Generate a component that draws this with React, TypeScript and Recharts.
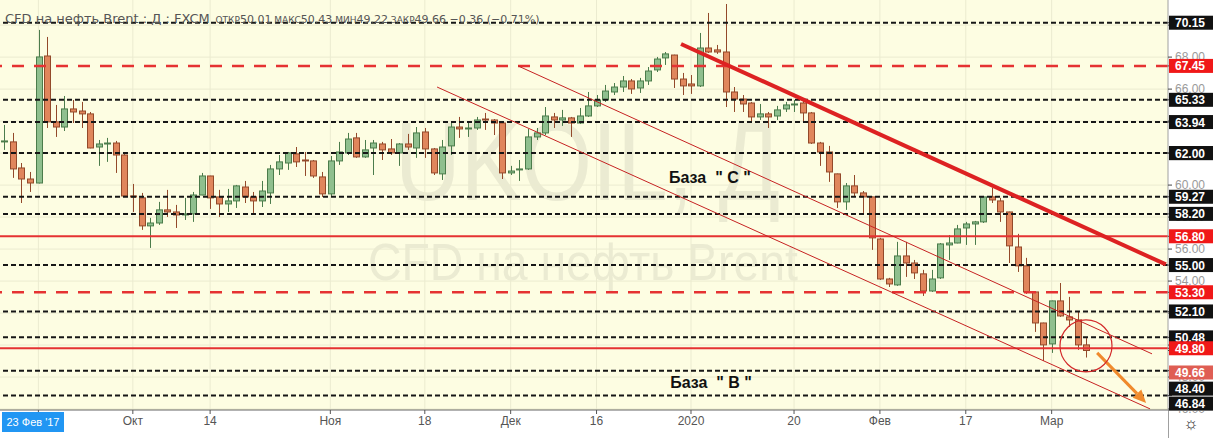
import React from 'react';
import {
  ComposedChart,
  Bar,
  XAxis,
  YAxis,
  CartesianGrid,
  ReferenceLine,
  ReferenceDot,
} from 'recharts';

// daily candles (Sep 2019 - Mar 2020)
const OPEN = [
  62.7, 62.7, 61.07, 60.38, 60.13, 68.07, 63.95, 63.63, 64.76, 64.63,
  64.45, 62.38, 62.57, 62.63, 61.88, 59.32, 59.2, 57.45, 57.63, 58.45,
  58.32, 58.13, 58.2, 59.38, 60.57, 59.26, 58.82, 59.01, 59.88, 59.26,
  59.01, 59.51, 61.01, 61.38, 61.95, 61.57, 61.51, 60.51, 59.45, 61.51,
  62.01, 62.95, 61.76, 62.32, 62.57, 62.26, 62.01, 62.57, 62.32, 63.32,
  62.26, 60.7, 62.45, 63.63, 63.51, 63.57, 64.13, 64.07, 63.88, 60.76,
  60.95, 61.01, 63.01, 63.26, 64.26, 64.07, 64.2, 63.88, 64.32, 64.95,
  65.32, 65.82, 66.13, 66.51, 66.07, 66.51, 67.2, 67.95, 68.13, 66.63,
  66.32, 66.2, 68.57, 68.45, 68.32, 65.82, 65.38, 65.13, 64.26, 64.45,
  64.32, 64.76, 65.01, 65.13, 64.51, 62.63, 62.07, 60.7, 58.95, 59.95,
  59.51, 59.26, 56.63, 54.13, 53.76, 55.57, 55.13, 54.45, 53.38, 54.2,
  56.26, 56.38, 57.32, 57.57, 57.7, 59.26, 59.01, 58.32, 56.13, 54.95,
  53.32, 51.38, 50.07, 52.76, 51.76, 51.57, 50.01,
];
const HIGH = [
  63.76, 63.26, 61.38, 60.82, 69.7, 69.26, 65.01, 65.57, 65.32, 65.2,
  64.57, 62.82, 62.95, 62.76, 61.95, 60.07, 59.51, 57.95, 58.95, 59.7,
  58.76, 59.2, 59.57, 60.76, 60.58, 59.7, 59.76, 60.01, 60.26, 59.57,
  60.26, 61.26, 61.88, 62.07, 62.38, 62.07, 61.57, 60.82, 61.82, 62.7,
  63.26, 63.26, 62.82, 62.82, 62.7, 62.88, 62.63, 63.2, 63.63, 63.57,
  62.32, 62.82, 63.95, 64.26, 63.95, 64.26, 64.51, 64.13, 63.95, 61.2,
  61.57, 63.51, 63.57, 64.88, 64.51, 64.7, 64.26, 64.82, 65.82, 65.63,
  66.26, 66.38, 66.82, 66.63, 66.7, 67.38, 68.01, 68.32, 68.15, 67.01,
  66.88, 69.51, 70.76, 68.76, 71.32, 66.13, 65.63, 65.2, 65.07, 64.57,
  64.95, 65.2, 65.32, 65.32, 64.57, 62.7, 62.45, 60.72, 60.13, 60.63,
  59.63, 59.28, 56.7, 54.2, 56.45, 56.45, 55.32, 54.7, 54.7, 56.38,
  56.88, 57.51, 57.7, 57.76, 59.32, 59.82, 59.2, 58.34, 56.95, 55.45,
  53.34, 51.4, 52.78, 53.88, 53.01, 52.07, 50.43,
];
const LOW = [
  62.2, 60.45, 58.88, 59.57, 60.1, 63.57, 63.01, 63.38, 63.88, 63.57,
  62.3, 61.2, 61.45, 60.76, 59.26, 58.32, 57.2, 56.07, 57.51, 58.01,
  57.32, 57.82, 57.7, 59.36, 58.51, 58.01, 58.32, 58.57, 58.88, 58.26,
  58.63, 58.82, 60.63, 60.95, 61.13, 60.57, 60.45, 59.26, 59.32, 61.26,
  61.88, 61.7, 61.7, 60.63, 61.57, 61.88, 61.2, 62.2, 61.7, 61.7,
  60.63, 60.32, 61.88, 62.95, 63.01, 63.45, 63.45, 63.13, 60.38, 60.63,
  60.26, 60.95, 62.82, 63.13, 63.57, 63.7, 63.01, 63.82, 64.26, 64.88,
  65.2, 65.63, 65.82, 65.7, 65.76, 66.26, 67.07, 67.51, 66.07, 65.63,
  65.7, 66.13, 68.26, 68.2, 64.88, 64.57, 64.57, 63.95, 64.07, 63.57,
  64.07, 64.57, 64.57, 63.95, 62.57, 61.2, 60.2, 58.57, 58.45, 59.26,
  58.26, 55.95, 54.07, 53.63, 53.7, 54.26, 54.13, 53.07, 53.32, 54.13,
  55.32, 56.36, 56.26, 56.26, 57.63, 58.88, 57.7, 55.13, 54.57, 53.2,
  50.82, 49.01, 49.51, 51.76, 51.13, 49.7, 49.22,
];
const CLOSE = [
  62.76, 61.01, 60.38, 60.13, 68.01, 63.95, 63.63, 64.76, 64.57, 64.45,
  62.32, 62.57, 62.63, 61.88, 59.32, 59.26, 57.45, 57.63, 58.45, 58.32,
  58.13, 58.2, 59.38, 60.57, 59.2, 58.82, 59.01, 59.95, 59.26, 59.01,
  59.63, 61.01, 61.45, 62.01, 61.45, 61.54, 60.57, 59.45, 61.51, 62.07,
  62.88, 61.76, 62.2, 62.63, 62.2, 62.01, 62.57, 62.38, 63.26, 62.26,
  60.76, 62.38, 63.63, 63.51, 63.57, 64.07, 64.1, 63.88, 60.76, 60.88,
  61.01, 63.01, 63.26, 64.32, 64.07, 64.2, 63.88, 64.32, 64.95, 65.32,
  65.88, 66.13, 66.51, 66.01, 66.51, 67.13, 67.88, 68.2, 66.63, 66.2,
  66.2, 68.57, 68.32, 68.32, 65.82, 65.38, 65.07, 64.26, 64.45, 64.26,
  64.7, 65.01, 65.07, 64.51, 62.63, 62.07, 60.82, 58.95, 59.95, 59.51,
  59.26, 56.7, 54.13, 53.82, 55.57, 55.13, 54.51, 53.38, 54.13, 56.32,
  56.38, 57.26, 57.57, 57.7, 59.26, 59.07, 58.32, 56.2, 54.95, 53.32,
  51.38, 50.01, 52.76, 51.82, 51.57, 50.01, 49.66,
];

const X_TICKS = [4, 15, 24, 38, 49, 59, 69, 80, 92, 102, 112, 122];
const X_TICK_LABELS = ['', 'Окт', '14', 'Ноя', '18', 'Дек', '16', '2020', '20', 'Фев', '17', 'Мар'];

const Y_GRID = [46, 48, 50, 52, 54, 56, 58, 60, 62, 64, 66, 68, 70];
const BLACK_LEVELS = [70.15, 65.33, 63.94, 62.0, 59.27, 58.2, 55.0, 52.1, 50.48, 48.4, 46.84];
const RED_DASHED_LEVELS = [67.45, 53.3];
const RED_SOLID_LEVELS = [56.8, 49.8];
const LAST_PRICE = 49.66;

// drawn annotations, in (candle index, price)
const TREND_MAIN = [{ x: 78.84, y: 68.82 }, { x: 135.3, y: 55.04 }];
const CHANNEL_UPPER = [{ x: 59.86, y: 67.45 }, { x: 133.69, y: 49.45 }];
const CHANNEL_LOWER = [{ x: 50.43, y: 66.13 }, { x: 133.46, y: 46.01 }];
const ARROW = [{ x: 127.3, y: 49.51 }, { x: 133.0, y: 46.38 }];
const CIRCLE = { x: 126, y: 49.95 };
const NOTES = [
  { x: 82.2, y: 60.5, text: 'База  " С "' },
  { x: 82.33, y: 47.63, text: 'База  " В "' },
];

const PLOT_BG = '#fdfde2';
const UP = { fill: '#8fbf8e', stroke: '#4b7c4b' };
const DOWN = { fill: '#e0865c', stroke: '#93492a' };
const FONT = '"Liberation Sans", Arial, sans-serif';
const HEAD_FONT = '"DejaVu Sans", Verdana, sans-serif';

const data = OPEN.map((o, i) => ({
  i,
  open: o,
  high: HIGH[i],
  low: LOW[i],
  close: CLOSE[i],
  range: [LOW[i], HIGH[i]],
}));

const boxColor: Record<string, string> = {};
BLACK_LEVELS.forEach((v) => (boxColor[v.toFixed(2)] = '#111'));
RED_DASHED_LEVELS.forEach((v) => (boxColor[v.toFixed(2)] = '#f01818'));
RED_SOLID_LEVELS.forEach((v) => (boxColor[v.toFixed(2)] = '#f01818'));
boxColor[LAST_PRICE.toFixed(2)] = '#df5e54';

// labels pushed apart the way the platform stacks them
const LABEL_NUDGE: Record<string, number> = { '49.66': 22, '48.40': 18, '46.84': 8 };

function Candle(props: any) {
  const { x, y, width, height, payload } = props;
  if (payload == null || height == null) return null;
  const { open, close, high, low } = payload;
  const ppu = high > low ? height / (high - low) : 0;
  const cx = Math.round(x + width / 2) + 0.5;
  const up = close >= open;
  const c = up ? UP : DOWN;
  const top = y + (high - Math.max(open, close)) * ppu;
  const bot = y + (high - Math.min(open, close)) * ppu;
  return (
    <g>
      <line x1={cx} x2={cx} y1={y} y2={y + height} stroke={c.stroke} strokeWidth={1} />
      <rect
        x={cx - 3}
        y={top}
        width={6}
        height={Math.max(bot - top, 1)}
        fill={c.fill}
        stroke={c.stroke}
        strokeWidth={1}
      />
    </g>
  );
}

function PriceTick(props: any) {
  const { x, y, payload } = props;
  const key = Number(payload.value).toFixed(2);
  const bg = boxColor[key];
  if (!bg) {
    return (
      <text x={x + 1} y={y + 4} fill="#9a9a9a" fontSize={12} fontFamily={FONT}>
        {key}
      </text>
    );
  }
  const cy = y + (LABEL_NUDGE[key] || 0);
  return (
    <g>
      <rect x={x - 5} y={cy - 7} width={45} height={14} fill={bg} />
      <text x={x + 1} y={cy + 4.5} fill="#fff" fontSize={12} fontWeight="bold" fontFamily={FONT}>
        {key}
      </text>
    </g>
  );
}

function ArrowShape(props: any) {
  const { x1, y1, x2, y2 } = props;
  if (x1 == null) return null;
  const a = Math.atan2(y2 - y1, x2 - x1);
  const len = 13;
  const half = 6;
  const bx = x2 - len * Math.cos(a);
  const by = y2 - len * Math.sin(a);
  const px = -Math.sin(a) * half;
  const py = Math.cos(a) * half;
  return (
    <g>
      <line x1={x1} y1={y1} x2={bx} y2={by} stroke="#f08a2c" strokeWidth={3} />
      <polygon
        points={`${x2},${y2} ${bx + px},${by + py} ${bx - px},${by - py}`}
        fill="#f08a2c"
      />
    </g>
  );
}

function NoteShape(text: string) {
  return (props: any) => (
    <text
      x={props.cx}
      y={props.cy}
      textAnchor="middle"
      dominantBaseline="central"
      fontSize={16}
      fontWeight="bold"
      fontFamily={FONT}
      fill="#111"
      style={{ whiteSpace: 'pre' }}
    >
      {text}
    </text>
  );
}

export default function App() {
  const yTicks = [...Y_GRID, ...BLACK_LEVELS, ...RED_DASHED_LEVELS, ...RED_SOLID_LEVELS, LAST_PRICE];

  return (
    <div
      style={{
        position: 'absolute',
        left: 0,
        top: 0,
        width: 1213,
        height: 438,
        background: '#fff',
        overflow: 'hidden',
        fontFamily: FONT,
      }}
    >
      {/* plot background + watermark */}
      <div style={{ position: 'absolute', left: 0, top: 0, width: 1168, height: 410, background: PLOT_BG }} />
      <svg style={{ position: 'absolute', left: 0, top: 0 }} width={1168} height={410}>
        <text
          x={395}
          y={200}
          fontSize={112}
          fontFamily={FONT}
          fill="#ebebd2"
          textLength={385}
          lengthAdjust="spacingAndGlyphs"
        >
          UKOIL, Д
        </text>
        <text
          x={368}
          y={280}
          fontSize={52}
          fontFamily={FONT}
          fill="#ebebd2"
          textLength={430}
          lengthAdjust="spacingAndGlyphs"
        >
          CFD на нефть Brent
        </text>
      </svg>

      <div style={{ position: 'absolute', left: 0, top: 0 }}>
        <ComposedChart width={1213} height={438} data={data} margin={{ top: 0, right: 0, bottom: 0, left: 0 }}>
          <CartesianGrid
            stroke="#ebebd0"
            horizontalValues={Y_GRID}
            verticalValues={X_TICKS}
          />
          <XAxis
            dataKey="i"
            type="number"
            domain={[-0.47, 135.55]}
            allowDataOverflow
            ticks={X_TICKS}
            interval={0}
            height={28}
            tickFormatter={(v: number) => X_TICK_LABELS[X_TICKS.indexOf(v)] ?? ''}
            tick={{ fontSize: 12, fill: '#555', fontFamily: FONT }}
            tickLine={{ stroke: '#555' }}
            tickSize={4}
            axisLine={{ stroke: '#666' }}
          />
          <YAxis
            orientation="right"
            type="number"
            domain={[45.94, 71.57]}
            allowDataOverflow
            ticks={yTicks}
            interval={0}
            width={45}
            tickSize={4}
            tickLine={{ stroke: '#444' }}
            axisLine={{ stroke: '#a0a0a0' }}
            tick={<PriceTick />}
          />

          {BLACK_LEVELS.map((v) => (
            <ReferenceLine key={'b' + v} y={v} stroke="#161616" strokeWidth={2} strokeDasharray="5 3" />
          ))}
          {RED_DASHED_LEVELS.map((v) => (
            <ReferenceLine key={'rd' + v} y={v} stroke="#e53232" strokeWidth={2.5} strokeDasharray="12 10" />
          ))}
          {RED_SOLID_LEVELS.map((v) => (
            <ReferenceLine key={'rs' + v} y={v} stroke="#e53232" strokeWidth={2} />
          ))}

          <Bar dataKey="range" barSize={7} shape={<Candle />} isAnimationActive={false} />

          <ReferenceLine segment={CHANNEL_UPPER} stroke="#c62222" strokeWidth={1} ifOverflow="visible" />
          <ReferenceLine segment={CHANNEL_LOWER} stroke="#c62222" strokeWidth={1} ifOverflow="visible" />
          <ReferenceLine segment={TREND_MAIN} stroke="#dd2222" strokeWidth={4} ifOverflow="visible" />
          <ReferenceLine segment={ARROW} ifOverflow="visible" shape={ArrowShape} />
          <ReferenceDot
            x={CIRCLE.x}
            y={CIRCLE.y}
            r={26}
            fill="none"
            stroke="#d32a2a"
            strokeWidth={1.2}
            ifOverflow="visible"
          />
          {NOTES.map((n) => (
            <ReferenceDot key={n.text} x={n.x} y={n.y} r={1} ifOverflow="visible" shape={NoteShape(n.text)} />
          ))}
        </ComposedChart>
      </div>

      {/* header */}
      <div
        style={{
          position: 'absolute',
          left: 5,
          top: 10,
          color: '#555',
          whiteSpace: 'pre',
          lineHeight: '16px',
          fontFamily: HEAD_FONT,
        }}
      >
        <span style={{ fontSize: 13 }}>CFD на нефть Brent : Д : FXCM</span>
        <span style={{ fontSize: 9 }}>{'  ОТКР'}</span>
        <span style={{ fontSize: 11 }}>50.01</span>
        <span style={{ fontSize: 9 }}>{' МАКС'}</span>
        <span style={{ fontSize: 11 }}>50.43</span>
        <span style={{ fontSize: 9 }}>{' МИН'}</span>
        <span style={{ fontSize: 11 }}>49.22</span>
        <span style={{ fontSize: 9 }}>{' ЗАКР'}</span>
        <span style={{ fontSize: 11 }}>49.66 −0.36 (−0.71%)</span>
      </div>

      {/* bottom-left date label and corner box */}
      <div
        style={{
          position: 'absolute',
          left: 2,
          top: 412,
          width: 62,
          height: 20,
          background: '#2196f3',
          color: '#fff',
          fontSize: 11,
          lineHeight: '20px',
          textAlign: 'center',
        }}
      >
        23 Фев '17
      </div>
      <div style={{ position: 'absolute', left: 1168, top: 410, width: 45, height: 28, borderLeft: '1px solid #a0a0a0', borderTop: '1px solid #666', boxSizing: 'border-box', textAlign: 'center', fontSize: 17, lineHeight: '26px', color: '#333' }}>
        ☼
      </div>
    </div>
  );
}
